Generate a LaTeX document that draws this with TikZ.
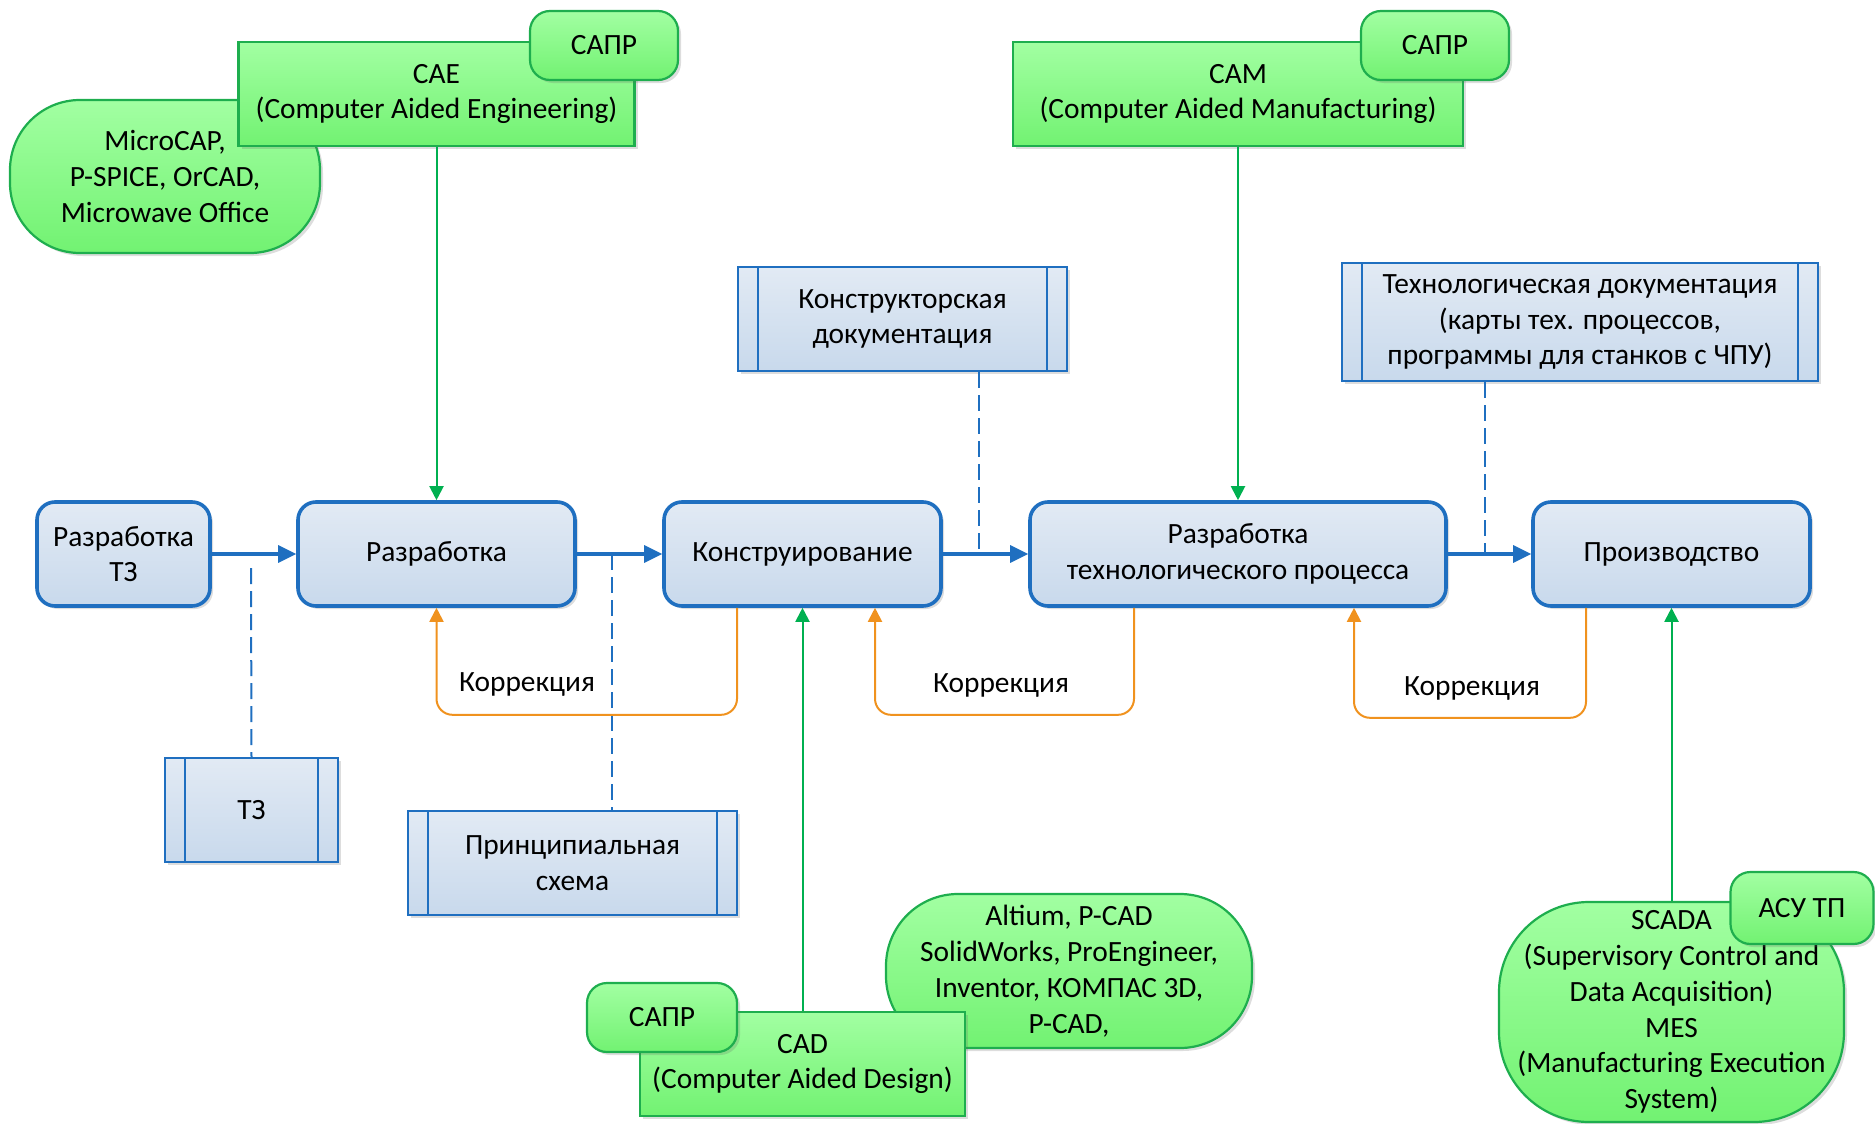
\documentclass[tikz,border=0pt]{standalone}
\usepackage{fontspec}
\setmainfont{Carlito}
\usetikzlibrary{arrows.meta,shadows}
\definecolor{bblue}{HTML}{1F6FC0}
\definecolor{bfillt}{HTML}{E2EAF4}
\definecolor{bfillb}{HTML}{C8D9EC}
\definecolor{gline}{HTML}{1EAE4E}
\definecolor{gfillt}{HTML}{A2FFA2}
\definecolor{gfillb}{HTML}{72F272}
\definecolor{corange}{HTML}{F0921E}
\definecolor{garrow}{HTML}{00B050}
\begin{document}
\begin{tikzpicture}[x=0.5pt,y=-0.5pt, font=\fontsize{14.7}{17.9}\selectfont,
  shadowed/.style={drop shadow={shadow xshift=1.5pt,shadow yshift=-1.5pt,opacity=0.22,fill=black!60}},
  proc/.style={shadowed, draw=bblue, line width=1.8pt, rounded corners=9pt, top color=bfillt, bottom color=bfillb, minimum height=52pt, align=center, inner sep=2pt},
  docbox/.style={shadowed, draw=bblue, line width=1.1pt, top color=bfillt, bottom color=bfillb, align=center, inner sep=2pt,
    path picture={\draw[bblue, line width=1.1pt] ([xshift=10pt]path picture bounding box.north west) -- ([xshift=10pt]path picture bounding box.south west);
                  \draw[bblue, line width=1.1pt] ([xshift=-10pt]path picture bounding box.north east) -- ([xshift=-10pt]path picture bounding box.south east);}},
  gbox/.style={shadowed, draw=gline, line width=1.1pt, top color=gfillt, bottom color=gfillb, align=center, inner sep=1pt},
  gtag/.style={gbox, rounded corners=10pt, minimum width=74pt, minimum height=34.5pt},
  myflow/.style={draw=bblue, line width=1.6pt, -{Triangle[length=9pt,width=8.5pt]}},
  garr/.style={draw=garrow, line width=1pt, -{Triangle[length=7pt,width=7pt]}},
  corr/.style={draw=corange, line width=1pt, rounded corners=8pt, -{Triangle[length=7pt,width=7pt]}},
  dsh/.style={draw=bblue, line width=1pt, dash pattern=on 8pt off 3.5pt}
]
\useasboundingbox (0,0) rectangle (1875,1124);

% green top-left group
\node[gbox, rounded corners=35pt, minimum width=155pt, minimum height=76.5pt] (micro) at (165,176.5) {MicroCAP,\\P-SPICE, OrCAD,\\Microwave Office};
\node[gbox, minimum width=198pt, minimum height=52pt] (cae) at (436.5,94) {CAE\\(Computer Aided Engineering)};
\node[gtag] (sapr1) at (604,45.5) {САПР};

% green top-right group
\node[gbox, minimum width=225pt, minimum height=52pt] (cam) at (1238,94) {CAM\\(Computer Aided Manufacturing)};
\node[gtag] (sapr2) at (1435,45.5) {САПР};

% green bottom group
\node[gbox, rounded corners=36pt, minimum width=183pt, minimum height=77pt] (alt) at (1069,971) {Altium, P-CAD\\SolidWorks, ProEngineer,\\Inventor, КОМПАС 3D,\\P-CAD,};
\node[gbox, minimum width=162.5pt, minimum height=52pt] (cad) at (802.5,1064) {CAD\\(Computer Aided Design)};
\node[gtag, minimum width=75pt] (sapr3) at (662,1017.5) {САПР};

% green bottom-right group
\node[gbox, rounded corners=45pt, minimum width=172.5pt, minimum height=110pt] (scada) at (1671.5,1012) {SCADA\\(Supervisory Control and\\Data Acquisition)\\MES\\(Manufacturing Execution\\System)};
\node[gtag, minimum width=71.5pt, minimum height=36pt] (asu) at (1802,908) {АСУ ТП};

% documents
\node[docbox, minimum width=164.5pt, minimum height=52pt] (kd) at (902.5,319) {Конструкторская\\документация};
\node[docbox, minimum width=238pt, minimum height=59pt] (td) at (1580,322) {Технологическая документация\\(карты тех. процессов,\\программы для станков с ЧПУ)};
\node[docbox, minimum width=86.5pt, minimum height=52pt] (tz) at (251.5,810) {ТЗ};
\node[docbox, minimum width=164.5pt, minimum height=52pt] (ps) at (572.5,863) {Принципиальная\\схема};

% main process boxes
\node[proc, minimum width=86.5pt] (rtz) at (123.5,554) {Разработка\\ТЗ};
\node[proc, minimum width=138.5pt] (razr) at (436.5,554) {Разработка};
\node[proc, minimum width=138.5pt] (konstr) at (802.5,554) {Конструирование};
\node[proc, minimum width=208pt] (rtp) at (1238,554) {Разработка\\технологического процесса};
\node[proc, minimum width=138.5pt] (proizv) at (1671.5,554) {Производство};

% dashed links
\coordinate (dtz) at (251,568);
\coordinate (dps) at (612,554);
\coordinate (dkd) at (979,554);
\coordinate (dtd) at (1485,554);
\draw[dsh] (dtz) -- (tz.north);
\draw[dsh] (dps) -- (dps |- ps.north);
\draw[dsh] (dkd |- kd.south) -- (dkd);
\draw[dsh] (dtd |- td.south) -- (dtd);

% main flow
\draw[myflow] (rtz.east) -- (razr.west);
\draw[myflow] (razr.east) -- (konstr.west);
\draw[myflow] (konstr.east) -- (rtp.west);
\draw[myflow] (rtp.east) -- (proizv.west);

% green tool arrows
\draw[garr] (cae.south) -- (razr.north);
\draw[garr] (cam.south) -- (rtp.north);
\draw[garr] (cad.north) -- (konstr.south);
\draw[garr] (scada.north) -- (proizv.south);

% corrections
\draw[corr] ([xshift=-32.75pt]konstr.south) -- ++(0,107) -| (razr.south);
\draw[corr] ([xshift=-52pt]rtp.south) -- ++(0,107) -| ([xshift=36.25pt]konstr.south);
\draw[corr] ([xshift=-42.75pt]proizv.south) -- ++(0,110) -| ([xshift=58pt]rtp.south);
\node (k1) at (527,684) {Коррекция};
\node (k2) at (1001,685) {Коррекция};
\node (k3) at (1472,688) {Коррекция};
\end{tikzpicture}
\end{document}
